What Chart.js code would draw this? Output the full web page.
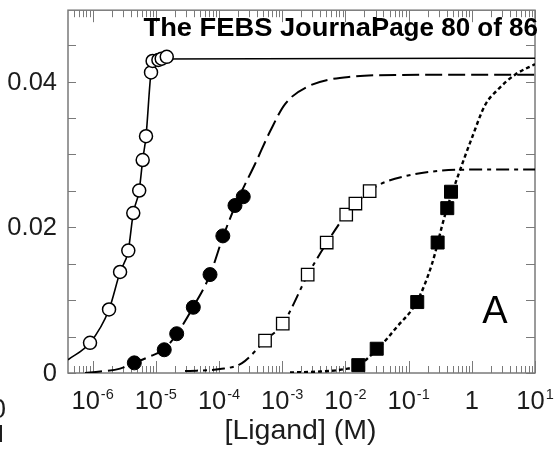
<!DOCTYPE html>
<html>
<head>
<meta charset="utf-8">
<script src="https://cdn.jsdelivr.net/npm/chart.js@4/dist/chart.umd.min.js"></script>
<style>
  html, body { margin: 0; padding: 0; background: #ffffff; }
  #wrap { width: 555px; height: 450px; position: relative; }
</style>
</head>
<body>
<div id="wrap"><canvas id="c" width="555" height="450"></canvas></div>
<script>
// Ligand titrations: measured signal (points) and fitted binding curves (lines)

// Ligand 1 (open circles, solid fit)
const conc1 = [9.1e-7, 1.82e-6, 2.72e-6, 3.67e-6, 4.4e-6, 5.46e-6, 6.2e-6, 7.0e-6, 8.4e-6, 8.9e-6, 1.1e-5, 1.24e-5, 1.49e-5];
const signal1 = [0.00414, 0.00872, 0.01387, 0.0168, 0.02196, 0.02505, 0.02923, 0.0325, 0.04126, 0.04283, 0.04297, 0.04315, 0.0434];
const fitConc1 = [4.08e-7, 9.1e-7, 1.82e-6, 2.72e-6, 3.67e-6, 4.4e-6, 5.46e-6, 6.2e-6, 7.0e-6, 8.4e-6, 1.0e-5, 10];
const fitSignal1 = [0.00182, 0.00414, 0.00872, 0.01387, 0.0168, 0.02196, 0.02505, 0.02923, 0.0325, 0.04126, 0.0431, 0.0432];

// Ligand 2 (filled circles, long-dash fit)
const conc2 = [4.57e-6, 1.36e-5, 2.14e-5, 3.92e-5, 7.21e-5, 1.15e-4, 1.79e-4, 2.42e-4];
const signal2 = [0.00139, 0.00319, 0.00539, 0.00902, 0.01351, 0.01882, 0.02299, 0.0242];
const fitConc2 = [7.6e-7, 1.31e-6, 2.72e-6, 4.52e-6, 8.1e-6, 1.35e-5, 2.16e-5, 3.88e-5, 7.21e-5, 1.16e-4, 2.0e-4, 3.72e-4, 6.41e-4, 1.11e-3, 2.56e-3, 1.27e-2, 7.31e-2, 10];
const fitSignal2 = [0, 0.0002, 0.0006, 0.00135, 0.00229, 0.00323, 0.00539, 0.00902, 0.01347, 0.01872, 0.02384, 0.02869, 0.03314, 0.03691, 0.03933, 0.04068, 0.04091, 0.04095];

// Ligand 3 (open squares, dash-dot fit)
const conc3 = [5.35e-4, 1.02e-3, 2.53e-3, 5.06e-3, 1.03e-2, 1.44e-2, 2.42e-2];
const signal3 = [0.00444, 0.00678, 0.01351, 0.01791, 0.02173, 0.02326, 0.02496];
const fitConc3 = [2.9e-5, 1.04e-4, 2.31e-4, 5.35e-4, 1.03e-3, 2.56e-3, 5.12e-3, 1.02e-2, 1.47e-2, 2.45e-2, 3.28e-2, 9.8e-2, 0.337, 1.12, 10];
const fitSignal3 = [0.00027, 0.00054, 0.00135, 0.00444, 0.0068, 0.01354, 0.01791, 0.02176, 0.0233, 0.02499, 0.02577, 0.02711, 0.02779, 0.02792, 0.02792];

// Ligand 4 (filled squares, dotted fit)
const conc4 = [1.6e-2, 3.13e-2, 0.137, 0.288, 0.409, 0.469];
const signal4 = [0.00108, 0.00333, 0.00974, 0.01791, 0.02263, 0.02488];
const fitConc4 = [1.33e-3, 3.96e-3, 9.86e-3, 1.58e-2, 3.16e-2, 6.55e-2, 0.136, 0.234, 0.377, 0.605, 1.01, 1.62, 2.51, 4.83, 10];
const fitSignal4 = [0.00007, 0.0002, 0.00054, 0.00101, 0.00323, 0.00633, 0.00983, 0.01495, 0.02169, 0.02707, 0.03233, 0.03677, 0.03879, 0.04095, 0.04239];

// Axis ranges and labelled ticks
const xMin = 4.08e-7, xMax = 10;
const yMin = 0, yMax = 0.0498;
const xTickExponents = [-6, -5, -4, -3, -2, -1, 0, 1];
const yTickValues = [0, 0.02, 0.04];
const yTickLabels = ['0', '0.02', '0.04'];
const yMinorStep = 0.005;

const xTitle = '[Ligand] (M)';
const panelLetter = 'A';
const headerLeft = 'The FEBS Journal';
const headerRight = 'Page 80 of 86';

const FONT = '"Liberation Sans", Arial, Helvetica, sans-serif';

function pts(xs, ys) { return xs.map((x, i) => ({ x: x, y: ys[i] })); }

function fitLine(xs, ys, dash, width) {
  return {
    type: 'line', data: pts(xs, ys), borderColor: '#000', borderWidth: width,
    borderDash: dash, pointRadius: 0, fill: false, cubicInterpolationMode: 'monotone', order: 2
  };
}
function markers(xs, ys, style, radius, bg, bw) {
  return {
    type: 'line', data: pts(xs, ys), showLine: false, pointStyle: style, pointRadius: radius,
    pointBackgroundColor: bg, pointBorderColor: '#000', pointBorderWidth: bw, order: 1
  };
}

const framePlugin = {
  id: 'frame',
  beforeDatasetsDraw(chart) {
    const ctx = chart.ctx, a = chart.chartArea;
    const xs = chart.scales.x, ys = chart.scales.y;
    ctx.save();
    ctx.strokeStyle = '#7a7a7a';
    ctx.lineWidth = 1;
    // log ticks along bottom and top edges
    for (let e = -7; e <= 1; e++) {
      for (let m = 1; m <= 9; m++) {
        const v = m * Math.pow(10, e);
        if (v < xMin * 0.999 || v > xMax * 1.001) continue;
        const px = Math.round(xs.getPixelForValue(v)) + 0.5;
        const len = m === 1 ? 12 : 7;
        ctx.beginPath();
        ctx.moveTo(px, a.bottom); ctx.lineTo(px, a.bottom - len);
        ctx.moveTo(px, a.top); ctx.lineTo(px, a.top + len);
        ctx.stroke();
      }
    }
    // linear ticks along left and right edges
    for (let k = 0; k * yMinorStep <= yMax + 1e-9; k++) {
      const py = Math.round(ys.getPixelForValue(k * yMinorStep)) + 0.5;
      ctx.beginPath();
      ctx.moveTo(a.left, py); ctx.lineTo(a.left + 8, py);
      ctx.moveTo(a.right, py); ctx.lineTo(a.right - 9, py);
      ctx.stroke();
    }
    ctx.lineWidth = 1.5;
    ctx.strokeRect(a.left, a.top, a.right - a.left, a.bottom - a.top);
    ctx.restore();
  },
  afterDraw(chart) {
    const ctx = chart.ctx, a = chart.chartArea;
    const xs = chart.scales.x, ys = chart.scales.y;
    ctx.save();
    ctx.fillStyle = '#1c1c1c';
    // y labels
    ctx.font = '25.5px ' + FONT;
    ctx.textAlign = 'right';
    ctx.textBaseline = 'middle';
    yTickValues.forEach((v, i) => {
      ctx.fillText(yTickLabels[i], a.left - 11, ys.getPixelForValue(v) + 1);
    });
    // x labels with superscript exponents
    ctx.textBaseline = 'alphabetic';
    ctx.textAlign = 'left';
    const base = a.bottom + 35.5;
    xTickExponents.forEach(e => {
      const px = xs.getPixelForValue(Math.pow(10, e));
      if (e === 0) {
        ctx.font = '25.5px ' + FONT;
        const w = ctx.measureText('1').width;
        ctx.fillText('1', px - w / 2, base);
        return;
      }
      const sup = e < 0 ? '-' + (-e) : String(e);
      ctx.font = '25.5px ' + FONT;
      const w1 = ctx.measureText('10').width;
      ctx.font = '14.5px ' + FONT;
      const w2 = ctx.measureText(sup).width;
      const x0 = px - (w1 + w2 + 1) / 2;
      ctx.font = '25.5px ' + FONT;
      ctx.fillText('10', x0, base);
      ctx.font = '14.5px ' + FONT;
      ctx.fillText(sup, x0 + w1 + 1, base - 9.5);
    });
    // axis title
    ctx.font = '28.5px ' + FONT;
    ctx.textAlign = 'center';
    ctx.fillText(xTitle, (a.left + a.right) / 2 - 1, a.bottom + 65.5);
    // panel letter
    ctx.fillStyle = '#000';
    ctx.font = '38px ' + FONT;
    ctx.fillText(panelLetter, 495, 323);
    // running header: journal name runs under the page number
    ctx.font = 'bold 26px ' + FONT;
    ctx.textAlign = 'left';
    const wl = ctx.measureText(headerLeft).width;
    const sx = 235 / wl;
    ctx.save();
    ctx.translate(143.5, 36);
    ctx.scale(sx, 1);
    ctx.fillText(headerLeft, 0, 0);
    ctx.restore();
    ctx.textAlign = 'right';
    ctx.fillText(headerRight, 538, 36);
    // edge of the neighbouring panel's labels
    ctx.fillStyle = '#1c1c1c';
    ctx.textAlign = 'right';
    ctx.font = '27px ' + FONT;
    ctx.fillText('0', 6, 418);
    ctx.font = '24px ' + FONT;
    ctx.fillText('d', 3.5, 442);
    ctx.restore();
  }
};

new Chart(document.getElementById('c'), {
  type: 'line',
  data: {
    datasets: [
      markers(conc1, signal1, 'circle', 6.5, '#ffffff', 1.5),
      markers(conc2, signal2, 'circle', 7, '#000000', 1),
      markers(conc3, signal3, 'rect', 8.8, '#ffffff', 1.3),
      markers(conc4, signal4, 'rect', 9.2, '#000000', 1),
      fitLine(fitConc1, fitSignal1, [], 1.6),
      fitLine(fitConc2, fitSignal2, [17, 6], 2),
      fitLine(fitConc3, fitSignal3, [13, 5, 4, 5], 2),
      fitLine(fitConc4, fitSignal4, [4, 3], 2.4)
    ]
  },
  options: {
    responsive: false,
    animation: false,
    devicePixelRatio: 1,
    layout: { padding: { left: 68, right: 20, top: 3, bottom: 77 } },
    plugins: { legend: { display: false }, tooltip: { enabled: false } },
    scales: {
      x: { type: 'logarithmic', min: xMin, max: xMax, display: false },
      y: { type: 'linear', min: yMin, max: yMax, display: false }
    }
  },
  plugins: [framePlugin]
});
</script>
</body>
</html>
